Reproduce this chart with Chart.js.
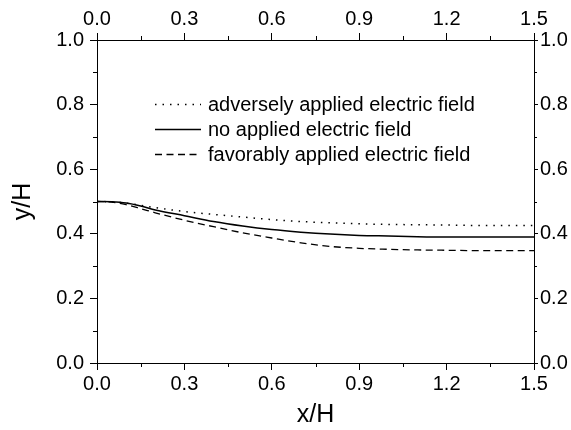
<!DOCTYPE html>
<html>
<head>
<meta charset="utf-8">
<script src="https://cdn.jsdelivr.net/npm/chart.js@4.4.0/dist/chart.umd.min.js"></script>
<style>
    html, body { margin: 0; padding: 0; background: #fff; }
</style>
</head>
<body>
<canvas id="myChart" width="571" height="430"></canvas>
<script>
// values
var xValues = [0, 0.05, 0.1, 0.15, 0.2, 0.3, 0.4, 0.5, 0.6, 0.7, 0.8, 0.9, 1.0, 1.1, 1.2, 1.3, 1.4, 1.5]
var adverseField = [0.5, 0.499, 0.495, 0.488, 0.481, 0.469, 0.46, 0.452, 0.444, 0.438, 0.434, 0.431, 0.429, 0.428, 0.427, 0.426, 0.426, 0.426]
var noField = [0.5, 0.499, 0.495, 0.486, 0.474, 0.456, 0.438, 0.424, 0.413, 0.405, 0.399, 0.395, 0.393, 0.391, 0.39, 0.39, 0.39, 0.39]
var favorableField = [0.5, 0.498, 0.49, 0.478, 0.465, 0.442, 0.422, 0.403, 0.387, 0.372, 0.361, 0.355, 0.352, 0.35, 0.349, 0.348, 0.348, 0.348]
var seriesNames = ["adversely applied electric field", "no applied electric field", "favorably applied electric field"]

var xTicks = [0, 0.3, 0.6, 0.9, 1.2, 1.5]
var xMinorTicks = [0.15, 0.45, 0.75, 1.05, 1.35]
var yTicks = [0, 0.2, 0.4, 0.6, 0.8, 1.0]
var yMinorTicks = [0.1, 0.3, 0.5, 0.7, 0.9]

const FONT = "'Liberation Sans', Arial, sans-serif"

function toPoints(ys) {
    return xValues.map((x, i) => ({ x: x, y: ys[i] }))
}

// short ticks between the labelled ones, on all four sides
const minorTicks = {
    id: 'minorTicks',
    afterDraw(chart) {
        const ctx = chart.ctx
        const len = 4
        ctx.save()
        ctx.strokeStyle = '#000'
        ctx.lineWidth = 1
        ctx.beginPath()
        xMinorTicks.forEach(v => {
            let px = Math.round(chart.scales.x.getPixelForValue(v)) + 0.5
            let b = chart.chartArea.bottom
            let t = chart.chartArea.top
            ctx.moveTo(px, b); ctx.lineTo(px, b + len)
            ctx.moveTo(px, t); ctx.lineTo(px, t - len)
        })
        yMinorTicks.forEach(v => {
            let py = Math.round(chart.scales.y.getPixelForValue(v)) + 0.5
            let l = chart.chartArea.left
            let r = chart.chartArea.right
            ctx.moveTo(l, py); ctx.lineTo(l - len, py)
            ctx.moveTo(r, py); ctx.lineTo(r + 3, py)
        })
        ctx.stroke()
        ctx.restore()
    }
}

// legend inside the plot, one row per dataset
const insideLegend = {
    id: 'insideLegend',
    afterDraw(chart) {
        const ctx = chart.ctx
        const x0 = 155, x1 = 201, textX = 208
        const rows = [104, 129, 154]
        ctx.save()
        ctx.font = "20px " + FONT
        ctx.textBaseline = 'middle'
        ctx.fillStyle = '#000'
        chart.data.datasets.forEach((ds, i) => {
            ctx.beginPath()
            ctx.setLineDash(ds.borderDash || [])
            ctx.lineWidth = ds.borderWidth
            ctx.strokeStyle = ds.borderColor
            ctx.moveTo(x0, rows[i] + 0.5)
            ctx.lineTo(x1, rows[i] + 0.5)
            ctx.stroke()
            ctx.setLineDash([])
            ctx.fillText(ds.label, textX, rows[i] + 1)
        })
        ctx.restore()
    }
}

function axisStyle(extra) {
    let base = {
        type: 'linear',
        grid: { display: true, drawOnChartArea: false, drawTicks: true, tickLength: 7, color: '#000', tickColor: '#000' },
        border: { display: true, color: '#000', width: 1 },
        ticks: { color: '#000', font: { family: FONT, size: 20 }, padding: 3, callback: v => v.toFixed(1) }
    }
    return Object.assign(base, extra)
}

function init() {
    let datasets = [
        { label: seriesNames[0], data: toPoints(adverseField), borderDash: [1.5, 6], borderWidth: 1.5 },
        { label: seriesNames[1], data: toPoints(noField), borderDash: [], borderWidth: 1.5 },
        { label: seriesNames[2], data: toPoints(favorableField), borderDash: [7, 4.5], borderWidth: 1.3 }
    ]
    datasets.forEach(ds => {
        ds.borderColor = '#000'
        ds.backgroundColor = '#000'
        ds.pointRadius = 0
        ds.fill = false
        ds.cubicInterpolationMode = 'monotone'
    })

    const chartConfig = {
        type: 'line',
        data: { datasets: datasets },
        plugins: [minorTicks, insideLegend],
        options: {
            responsive: false,
            animation: false,
            devicePixelRatio: 1,
            layout: { padding: 0 },
            plugins: { legend: { display: false }, tooltip: { enabled: false } },
            scales: {
                x: axisStyle({
                    position: 'bottom', min: 0, max: 1.5,
                    afterBuildTicks: s => { s.ticks = xTicks.map(v => ({ value: v })) },
                    afterFit: s => { s.height = 67 },
                    title: { display: true, text: 'x/H', color: '#000', font: { family: FONT, size: 25 }, padding: { top: 0, bottom: 0 } }
                }),
                x2: axisStyle({
                    position: 'top', min: 0, max: 1.5,
                    afterBuildTicks: s => { s.ticks = xTicks.map(v => ({ value: v })) },
                    afterFit: s => { s.height = 40 }
                }),
                y: axisStyle({
                    position: 'left', min: 0, max: 1,
                    afterBuildTicks: s => { s.ticks = yTicks.map(v => ({ value: v })) },
                    afterFit: s => { s.width = 97 },
                    title: { display: true, text: 'y/H', color: '#000', font: { family: FONT, size: 25 }, padding: { top: 8, bottom: 0 } }
                }),
                y2: axisStyle({
                    position: 'right', min: 0, max: 1,
                    afterBuildTicks: s => { s.ticks = yTicks.map(v => ({ value: v })) },
                    afterFit: s => { s.width = 37 }
                })
            }
        }
    }
    chartConfig.options.scales.x.ticks.padding = 2
    chartConfig.options.scales.x2.ticks.padding = 2
    chartConfig.options.scales.y.ticks.padding = 6
    chartConfig.options.scales.y2.grid.tickLength = 4
    chartConfig.options.scales.y2.ticks.padding = 2

    new Chart(document.getElementById('myChart'), chartConfig)
}
init()
</script>
</body>
</html>
